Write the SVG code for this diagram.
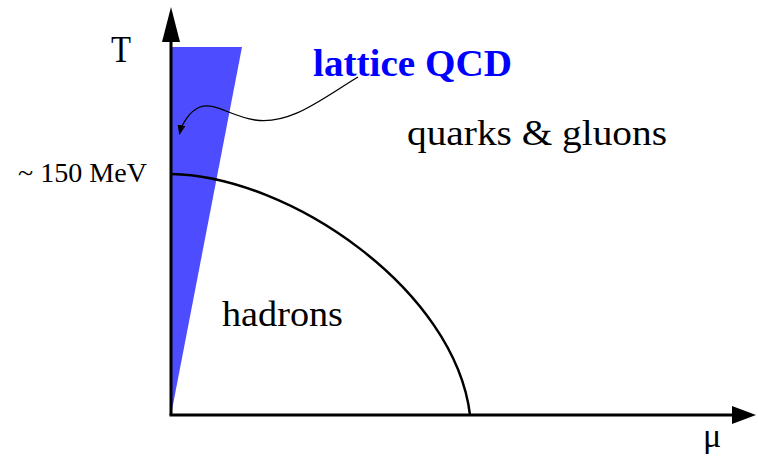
<svg xmlns="http://www.w3.org/2000/svg" width="758" height="463" viewBox="0 0 758 463">
<style>
.t{font-family:"Liberation Serif","Times New Roman",serif;fill:#000}
.ax{stroke:#000;stroke-width:3;fill:none}
</style>
<defs>
<marker id="ah" markerWidth="10" markerHeight="8" refX="9" refY="4" orient="auto" markerUnits="userSpaceOnUse">
<path d="M0,0 L10,4 L0,8 Z" fill="#000"/>
</marker>
</defs>
<rect width="758" height="463" fill="#fff"/>
<g id="lattice-region">
<polygon points="171,47 242,47 171,415" fill="#4d4dff"/>
</g>
<g id="axes">
<line class="ax" x1="171" y1="415" x2="171" y2="40"/>
<polygon points="171,7 162,42 180,42" fill="#000"/>
<line class="ax" x1="169.5" y1="415" x2="736" y2="415"/>
<polygon points="756,415 732,406 732,424" fill="#000"/>
</g>
<g id="transition-line">
<path d="M171,174 C290,176 455,290 470,415" stroke="#000" stroke-width="2.5" fill="none"/>
</g>
<g id="connectors">
<path d="M358,77 C320,100 290,125 255,120 C230,116 215,102 200,107 C190,111 182,123 179.5,134" stroke="#000" stroke-width="1.3" fill="none" marker-end="url(#ah)"/>
</g>
<g id="labels">
<text class="t" x="111" y="62" font-size="38" textLength="20" lengthAdjust="spacingAndGlyphs">T</text>
<text class="t" x="703" y="447" font-size="34">μ</text>
<text class="t" x="18" y="182" font-size="27" textLength="129" lengthAdjust="spacingAndGlyphs">~ 150 MeV</text>
<text class="t" x="313" y="76" font-size="38" font-weight="bold" style="fill:#0000ff" textLength="199" lengthAdjust="spacingAndGlyphs">lattice QCD</text>
<text class="t" x="407" y="145" font-size="36" textLength="260" lengthAdjust="spacingAndGlyphs">quarks &amp; gluons</text>
<text class="t" x="222" y="326" font-size="36" textLength="121" lengthAdjust="spacingAndGlyphs">hadrons</text>
</g>
</svg>
